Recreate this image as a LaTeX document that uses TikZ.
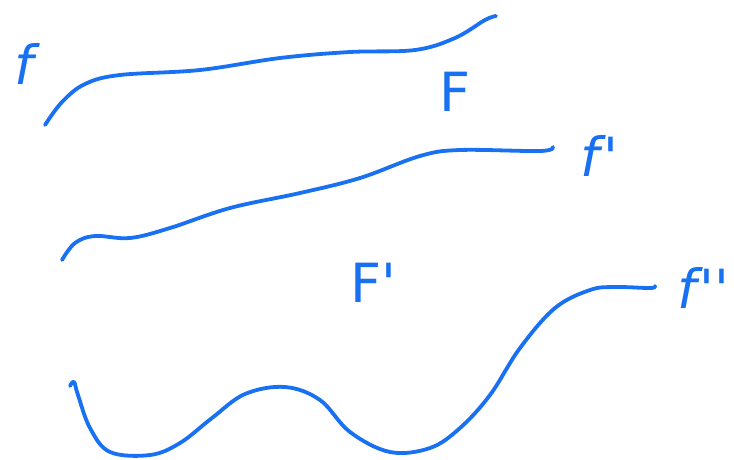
\documentclass[tikz,border=0pt]{standalone}
\usepackage{fontspec}
\setmainfont{DejaVu Sans}
\begin{document}
\begin{tikzpicture}[x=1pt,y=-1pt,
  ink/.style={draw=inkblue,line width=3.8pt,line cap=round,line join=round},
  lbl/.style={text=inkblue,inner sep=0pt}]
\definecolor{inkblue}{RGB}{24,112,242}
\useasboundingbox (0,0) rectangle (734,459);
% curve f
\draw[ink] plot[smooth,tension=0.6] coordinates {(45,125) (62,102) (85,84) (120,75) (200,70) (280,58) (350,52) (415,50) (455,38) (485,20) (496,16)};
% curve f'
\draw[ink] plot[smooth,tension=0.6] coordinates {(62,260) (75,243) (95,236) (130,238) (170,228) (230,208) (300,193) (360,178) (420,156) (460,150) (540,151) (553,147)};
% curve f''
\draw[ink] plot[smooth,tension=0.6] coordinates {(70,386) (74,382) (78,395) (90,428) (110,452) (150,455) (180,443) (212,418) (245,394) (285,387) (320,400) (350,432) (390,452) (430,448) (460,428) (490,395) (520,348) (555,308) (590,290) (615,287) (650,288) (655,286)};
% labels
\node[lbl,font=\fontsize{54}{54}\selectfont\itshape] (lf) at (24,64) {f};
\node[lbl,font=\fontsize{54}{54}\selectfont] (lF) at (455,92) {F};
\node[lbl,font=\fontsize{54}{54}\selectfont\itshape,anchor=west] (lf1) at (580,156) {f\hspace{4pt}\textquotesingle};
\node[lbl,font=\fontsize{54}{54}\selectfont,anchor=west] (lF1) at (350,283) {F\textquotesingle};
\node[lbl,font=\fontsize{54}{54}\selectfont\itshape,anchor=west] (lf2) at (677,288) {f\hspace{3pt}\textquotesingle\textquotesingle};
\end{tikzpicture}
\end{document}
